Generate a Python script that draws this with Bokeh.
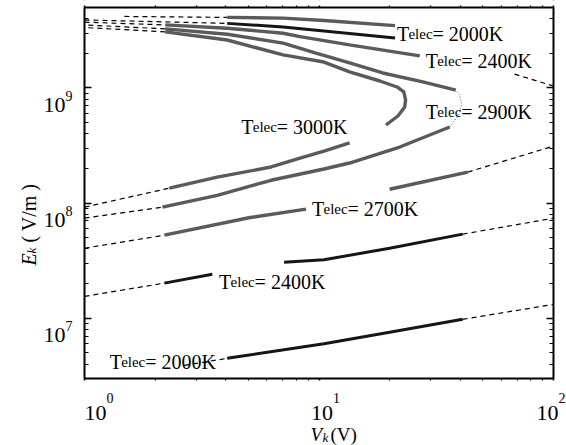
from math import pi, log10
from bokeh.plotting import figure
from bokeh.models import Label, FixedTicker, LogAxis, Range1d, BoxAnnotation
from bokeh.embed import file_html
from bokeh.resources import INLINE

# ---------------- data ----------------
x_major = [1.0, 10.0, 100.0]
x_exp = ["0", "1", "2"]
y_major = [1e6, 1e7, 1e8, 1e9, 1e10]
y_label_ticks = [1e7, 1e8, 1e9]
y_exp = ["7", "8", "9"]
x_minor = [k * 10.0 ** n for n in (0, 1) for k in range(2, 10)]
y_minor = [k * 10.0 ** n for n in range(6, 10) for k in range(2, 10)]
plot_x = (1.0, 100.0)
plot_y = (3e6, 5e9)

# T = 2000 K, lower branch
lo2000_x = [4.06, 10.5, 20.0, 41.0]
lo2000_y = [4.49e6, 6.0e6, 7.55e6, 9.8e6]
lo2000_dl_x = [2.66, 4.06]
lo2000_dl_y = [3.90e6, 4.49e6]
lo2000_dr_x = [41.0, 100.0]
lo2000_dr_y = [9.8e6, 1.32e7]

# T = 2400 K, lower branch
lo2400_dl_x = [1.0, 2.19]
lo2400_dl_y = [1.55e7, 2.02e7]
lo2400_a_x = [2.19, 3.51]
lo2400_a_y = [2.02e7, 2.41e7]
lo2400_b_x = [7.10, 10.5, 20.0, 41.0]
lo2400_b_y = [3.07e7, 3.22e7, 4.06e7, 5.38e7]
lo2400_dr_x = [41.0, 100.0]
lo2400_dr_y = [5.38e7, 7.4e7]

# T = 2700 K, lower branch
lo2700_dl_x = [1.0, 2.19]
lo2700_dl_y = [4.06e7, 5.27e7]
lo2700_a_x = [2.19, 5.09, 8.80]
lo2700_a_y = [5.27e7, 7.5e7, 8.87e7]
lo2700_b_x = [20.0, 43.1]
lo2700_b_y = [1.32e8, 1.86e8]
lo2700_dr_x = [43.1, 100.0]
lo2700_dr_y = [1.86e8, 3.13e8]

# T = 2900 K, closed contour
t2900_dl_x = [1.0, 2.15]
t2900_dl_y = [7.41e7, 9.23e7]
t2900_lo_x = [2.15, 3.68, 6.25, 10.5, 13.5, 22.1, 36.1]
t2900_lo_y = [9.23e7, 1.17e8, 1.58e8, 1.98e8, 2.23e8, 3.07e8, 4.58e8]
t2900_nose_x = [36.1, 39.4, 40.6, 39.8, 38.3]
t2900_nose_y = [4.58e8, 5.82e8, 7.12e8, 8.69e8, 9.6e8]
t2900_up_x = [38.3, 27.7, 18.7, 13.5, 9.71, 7.03, 4.06, 2.21]
t2900_up_y = [9.6e8, 1.13e9, 1.35e9, 1.65e9, 2.01e9, 2.45e9, 2.93e9, 3.26e9]
t2900_du_x = [2.21, 1.0]
t2900_du_y = [3.26e9, 3.53e9]

# T = 3000 K, closed contour
t3000_dl_x = [1.0, 2.30]
t3000_dl_y = [9.23e7, 1.35e8]
t3000_lo_x = [2.30, 3.68, 6.25, 8.30, 10.5, 13.5]
t3000_lo_y = [1.35e8, 1.68e8, 2.06e8, 2.46e8, 2.83e8, 3.33e8]
t3000_up_x = [19.3, 21.7, 23.2, 23.4, 23.0, 21.5, 18.2, 13.5, 10.5, 7.03, 4.06, 2.21]
t3000_up_y = [4.77e8, 5.71e8, 6.84e8, 7.87e8, 9.23e8, 1.02e9, 1.15e9, 1.38e9, 1.68e9, 1.94e9, 2.61e9, 3.07e9]
t3000_du_x = [2.21, 1.0]
t3000_du_y = [3.07e9, 3.35e9]

# upper branches
upC_dl_x = [1.0, 2.21]
upC_dl_y = [3.73e9, 3.53e9]
upC_x = [2.21, 4.06, 7.03, 8.30, 13.5, 26.9]
upC_y = [3.53e9, 3.30e9, 2.99e9, 2.79e9, 2.37e9, 1.90e9]
upC_dr_x = [68.2, 100.0]
upC_dr_y = [1.32e9, 1.04e9]

upB_dl_x = [1.0, 4.06]
upB_dl_y = [3.90e9, 3.64e9]
upB_x = [4.06, 7.03, 10.5, 21.1]
upB_y = [3.64e9, 3.39e9, 3.13e9, 2.72e9]

upA_dl_x = [1.48, 4.06]
upA_dl_y = [4.18e9, 4.10e9]
upA_x = [4.06, 7.03, 10.5, 21.1]
upA_y = [4.10e9, 4.04e9, 3.86e9, 3.48e9]

# curve labels
lab_temp = ["2000K", "2400K", "2900K", "3000K", "2700K", "2400K", "2000K"]
lab_x = [21.5, 28.5, 28.5, 4.66, 9.34, 3.75, 1.28]
lab_y = [2.95e9, 1.72e9, 6.18e8, 4.58e8, 8.87e7, 2.06e7, 4.14e6]

# ---------------- layout ----------------
W, H = 566, 445                   # canvas size
FL, FR, FT, FB = 84, 553, 7, 378  # plot box inside canvas, px


def ext_range(lo, hi, a, b, pa, pb):
    """extend a log range [lo, hi] living on pixels [a, b] to cover [pa, pb]"""
    l0, l1 = log10(lo), log10(hi)
    ppd = (b - a) / (l1 - l0)
    return 10 ** (l0 - (a - pa) / ppd), 10 ** (l1 + (pb - b) / ppd)


xr = ext_range(plot_x[0], plot_x[1], FL, FR, 0, W)
yr = ext_range(plot_y[0], plot_y[1], H - FB, H - FT, 0, H)
# range values just outside the plot box (2 px) for the white margin masks
mx_lo, mx_hi = ext_range(plot_x[0], plot_x[1], FL, FR, FL - 2, FR + 2)
my_lo, my_hi = ext_range(plot_y[0], plot_y[1], H - FB, H - FT, H - FB - 2, H - FT + 2)

SERIF = "Liberation Serif"
GRAY = "#5a5a5a"
BLACK = "#151515"
SOLID_G = dict(line_color=GRAY, line_width=3.4)
SOLID_K = dict(line_color=BLACK, line_width=3.0)
DASH = dict(line_color="black", line_width=1.2, line_dash="5 4")
DOT = dict(line_color=GRAY, line_width=1.0, line_dash="1 2")

p = figure(width=W, height=H, x_axis_type="log", y_axis_type="log",
           x_range=Range1d(*xr), y_range=Range1d(*yr),
           output_backend="svg", toolbar_location=None,
           min_border_left=0, min_border_right=0, min_border_top=0,
           min_border_bottom=0)
p.background_fill_color = "white"
p.border_fill_color = "white"
p.outline_line_color = None
p.xgrid.visible = False
p.ygrid.visible = False

p.add_layout(LogAxis(), "right")
p.add_layout(LogAxis(), "above")

xt = FixedTicker(ticks=x_major, minor_ticks=x_minor)
yt = FixedTicker(ticks=y_major, minor_ticks=y_minor)
bx, tx = p.xaxis[0], p.xaxis[1]
ly, ry = p.yaxis[0], p.yaxis[1]
bx.fixed_location = plot_y[0]
tx.fixed_location = plot_y[1]
ly.fixed_location = plot_x[0]
ry.fixed_location = plot_x[1]
for ax in (bx, tx):
    ax.ticker = xt
    ax.bounds = plot_x
    ax.major_label_overrides = {v: " " for v in x_major}
for ax in (ly, ry):
    ax.ticker = yt
    ax.bounds = plot_y
    ax.major_label_overrides = {v: " " for v in y_major}
for ax in (bx, tx, ly, ry):
    ax.axis_line_width = 2
    ax.axis_line_color = "black"
    ax.major_tick_in = 7
    ax.major_tick_out = 0
    ax.minor_tick_in = 4
    ax.minor_tick_out = 0
    ax.major_tick_line_width = 1.5
    ax.minor_tick_line_width = 1.2
    ax.major_label_text_font_size = "1px"
    ax.major_label_text_color = None
    ax.major_label_standoff = 0

segments = [
    (lo2000_x, lo2000_y, SOLID_K), (lo2000_dl_x, lo2000_dl_y, DASH), (lo2000_dr_x, lo2000_dr_y, DASH),
    (lo2400_dl_x, lo2400_dl_y, DASH), (lo2400_a_x, lo2400_a_y, SOLID_K),
    (lo2400_b_x, lo2400_b_y, SOLID_K), (lo2400_dr_x, lo2400_dr_y, DASH),
    (lo2700_dl_x, lo2700_dl_y, DASH), (lo2700_a_x, lo2700_a_y, SOLID_G),
    (lo2700_b_x, lo2700_b_y, SOLID_G), (lo2700_dr_x, lo2700_dr_y, DASH),
    (t2900_dl_x, t2900_dl_y, DASH), (t2900_lo_x, t2900_lo_y, SOLID_G),
    (t2900_nose_x, t2900_nose_y, DOT), (t2900_up_x, t2900_up_y, SOLID_G),
    (t2900_du_x, t2900_du_y, DASH),
    (t3000_dl_x, t3000_dl_y, DASH), (t3000_lo_x, t3000_lo_y, SOLID_G),
    (t3000_up_x, t3000_up_y, SOLID_G), (t3000_du_x, t3000_du_y, DASH),
    (upC_dl_x, upC_dl_y, DASH), (upC_x, upC_y, SOLID_G), (upC_dr_x, upC_dr_y, DASH),
    (upB_dl_x, upB_dl_y, DASH), (upB_x, upB_y, SOLID_K),
    (upA_dl_x, upA_dl_y, DASH), (upA_x, upA_y, SOLID_G),
]
for xs, ys, st in segments:
    p.line(xs, ys, **st)

# white masks over the margins outside the plot box (drawn before the texts)
mask = dict(fill_color="white", fill_alpha=1.0, line_color=None)
p.add_layout(BoxAnnotation(top=my_lo, **mask))
p.add_layout(BoxAnnotation(bottom=my_hi, **mask))
p.add_layout(BoxAnnotation(right=mx_lo, **mask))
p.add_layout(BoxAnnotation(left=mx_hi, **mask))


def lab(**kw):
    base = dict(text_font=SERIF, text_baseline="alphabetic", text_color="black")
    base.update(kw)
    p.add_layout(Label(**base))


# curve labels  "T" + small "elec" + "= ...K"
for t, lx, lyv in zip(lab_temp, lab_x, lab_y):
    lab(x=lx, y=lyv, text="T", text_font_size="20px")
    lab(x=lx, y=lyv, x_offset=11.5, text="elec", text_font_size="15px")
    lab(x=lx, y=lyv, x_offset=35.5, text="= " + t, text_font_size="20px")

# tick labels (10 with superscript exponent); screen y counted up from canvas bottom
x_off = [0, -8, -17]
for v, e, off in zip(x_major, x_exp, x_off):
    lab(x=v, y=H - FB - 34, x_units="data", y_units="screen", x_offset=off,
        text="10", text_font_size="22px")
    lab(x=v, y=H - FB - 19, x_units="data", y_units="screen", x_offset=off + 22,
        text=e, text_font_size="14px")
for v, e in zip(y_label_ticks, y_exp):
    lab(x=FL - 19, y=v, x_units="screen", y_units="data", y_offset=-17,
        text="10", text_font_size="22px", text_align="right")
    lab(x=FL - 19, y=v, x_units="screen", y_units="data", y_offset=-8,
        text=e, text_font_size="14px", text_align="left")

# axis titles
lab(x=FL + 226, y=H - FB - 56, x_units="screen", y_units="screen", text="V",
    text_font_size="19px", text_font_style="italic")
lab(x=FL + 238, y=H - FB - 59, x_units="screen", y_units="screen", text="k",
    text_font_size="13px", text_font_style="italic")
lab(x=FL + 246, y=H - FB - 56, x_units="screen", y_units="screen", text="(V)",
    text_font_size="19px")
lab(x=FL - 56, y=H - FB + 113, x_units="screen", y_units="screen", text="E", angle=pi / 2,
    text_font_size="20px", text_font_style="italic")
lab(x=FL - 53, y=H - FB + 125, x_units="screen", y_units="screen", text="k", angle=pi / 2,
    text_font_size="13px", text_font_style="italic")
lab(x=FL - 56, y=H - FB + 136, x_units="screen", y_units="screen", text="( V/m )",
    angle=pi / 2, text_font_size="20px")

open("out.html", "w").write(file_html(p, INLINE))
